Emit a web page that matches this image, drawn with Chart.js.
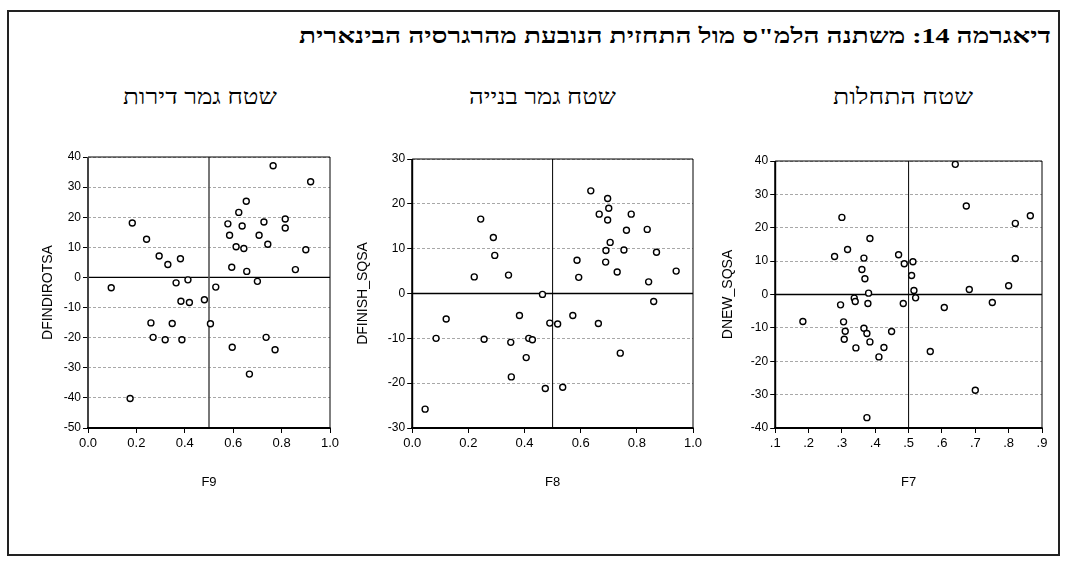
<!DOCTYPE html>
<html lang="he">
<head>
<meta charset="utf-8">
<script src="https://cdn.jsdelivr.net/npm/chart.js@4.4.1/dist/chart.umd.min.js"></script>
<style>
  body { margin: 0; background: #fff; width: 1067px; height: 568px; position: relative; overflow: hidden; }
  #frame { position: absolute; left: 7px; top: 10px; width: 1053px; height: 546px; border: 2px solid #222; box-sizing: border-box; }
  .txt { position: absolute; white-space: nowrap; direction: rtl; color: #000; line-height: 1;
         font-family: "Liberation Serif", "Times New Roman", "DejaVu Serif", serif; transform-origin: 0 50%; }
  #title { font-weight: bold; font-size: 21px; }
  .sub { font-size: 22px; }
  canvas { position: absolute; }
</style>
</head>
<body>
<div id="frame"></div>
<div class="txt" id="title" data-l="299" data-r="1051" data-y="36">דיאגרמה 14:  משתנה הלמ"ס מול התחזית הנובעת מהרגרסיה הבינארית</div>
<div class="txt sub" data-l="123" data-r="277" data-y="97">שטח גמר דירות</div>
<div class="txt sub" data-l="469" data-r="616" data-y="97">שטח גמר בנייה</div>
<div class="txt sub" data-l="833" data-r="973" data-y="97">שטח התחלות</div>

<canvas id="c1"></canvas>
<canvas id="c2"></canvas>
<canvas id="c3"></canvas>

<script>
// ---- data ----
const f9 = [0.096, 0.183, 0.242, 0.294, 0.330, 0.382, 0.364, 0.413, 0.260, 0.269, 0.319, 0.348, 0.388, 0.384,
  0.419, 0.481, 0.506, 0.528, 0.174, 0.578, 0.585, 0.623, 0.654, 0.637, 0.612, 0.644, 0.594, 0.656, 0.700,
  0.707, 0.727, 0.743, 0.815, 0.815, 0.596, 0.667, 0.736, 0.773, 0.765, 0.857, 0.920, 0.900]
const dfindirotsa = [-3.4, 18.1, 12.7, 7.1, 4.3, 6.2, -1.8, -0.8, -15.1, -19.9, -20.7, -15.3, -20.7, -7.9,
  -8.3, -7.4, -15.4, -3.2, -40.2, 17.8, 14.0, 21.6, 25.3, 17.1, 10.2, 9.6, 3.4, 2.0, -1.3,
  14.0, 18.4, 11.0, 19.4, 16.4, -23.2, -32.1, -19.9, -24.0, 37.1, 2.6, 31.8, 9.2]

const f8 = [0.046, 0.085, 0.121, 0.221, 0.244, 0.256, 0.289, 0.294, 0.343, 0.351, 0.353, 0.382, 0.406, 0.415,
  0.428, 0.464, 0.474, 0.490, 0.518, 0.536, 0.572, 0.587, 0.593, 0.636, 0.666, 0.663, 0.696, 0.700, 0.696,
  0.705, 0.690, 0.689, 0.730, 0.741, 0.754, 0.763, 0.780, 0.837, 0.842, 0.870, 0.860, 0.940]
const dfinish_sqsa = [-25.8, -10.0, -5.7, 3.7, 16.6, -10.2, 12.5, 8.5, 4.1, -10.9, -18.6, -4.9, -14.3, -10.0,
  -10.3, -0.2, -21.2, -6.6, -6.8, -20.9, -4.9, 7.4, 3.6, 22.9, 17.7, -6.7, 21.2, 19.0, 16.4,
  11.4, 9.6, 7.0, 4.8, -13.3, 9.7, 14.1, 17.7, 14.3, 2.6, 9.2, -1.8, 5.0]

const f7 = [0.183, 0.278, 0.300, 0.296, 0.317, 0.305, 0.310, 0.307, 0.337, 0.340, 0.342, 0.360, 0.366, 0.369,
  0.366, 0.375, 0.384, 0.380, 0.378, 0.384, 0.411, 0.426, 0.449, 0.470, 0.487, 0.484, 0.513, 0.509, 0.516,
  0.521, 0.565, 0.607, 0.673, 0.682, 0.700, 0.751, 0.375, 0.640, 0.800, 0.820, 0.820, 0.865]
const dnew_sqsa = [-8.1, 11.4, 23.1, -3.1, 13.5, -8.2, -11.0, -13.4, -1.1, -2.1, -16.0, 7.5, 10.9, 4.7,
  -10.1, -11.7, 16.8, 0.4, -2.7, -14.2, -18.7, -15.9, -11.1, 11.9, 9.2, -2.7, 9.8, 5.7, 1.2,
  -1.0, -17.1, -3.9, 26.5, 1.5, -28.7, -2.4, -36.9, 39.0, 2.6, 10.8, 21.3, 23.6]

const yRange1 = [-50, 40]
const yRange2 = [-30, 30]
const yRange3 = [-40, 40]

// ---- text placement ----
document.querySelectorAll('.txt').forEach(el => {
  const l = +el.dataset.l, r = +el.dataset.r, yc = +el.dataset.y
  const w = el.getBoundingClientRect().width
  const h = el.getBoundingClientRect().height
  el.style.left = l + 'px'
  el.style.top = (yc - h / 2) + 'px'
  el.style.transform = `scaleX(${(r - l) / w})`
})

const refLines = {
  id: 'refLines',
  beforeDatasetsDraw(chart, args, opts) {
    const { ctx, chartArea: a, scales: { x, y } } = chart
    const line = (x1, y1, x2, y2, color, width) => {
      ctx.beginPath(); ctx.strokeStyle = color; ctx.lineWidth = width
      ctx.moveTo(x1, y1); ctx.lineTo(x2, y2); ctx.stroke()
    }
    ctx.save()
    const y0 = y.getPixelForValue(0)
    line(a.left, y0, a.right, y0, '#000', 1.3)
    const xm = x.getPixelForValue(0.5)
    line(xm, a.top, xm, a.bottom, opts.midColor, opts.midWidth)
    line(a.left, a.top, a.right, a.top, '#000', 1)
    line(a.right, a.top, a.right, a.bottom, '#000', 1)
    line(a.left, a.top, a.left, a.bottom + 1, opts.axisColor, 2)
    line(a.left - 1, a.bottom, a.right + 0.5, a.bottom, '#000', 2)
    ctx.restore()
  }
}

function panel(id, box, xs, ys, yLabel, xLabel, yRange, xOpts, lineStyle) {
  const padTop = 12, padRight = 16, xH = 66
  const cv = document.getElementById(id)
  const cvLeft = box.titleX - 11.2
  const width = box.right + padRight - cvLeft
  const height = padTop + (box.bottom - box.top) + xH
  cv.style.left = cvLeft + 'px'
  cv.style.top = (box.top - padTop) + 'px'
  cv.width = width; cv.height = height
  cv.style.width = width + 'px'; cv.style.height = height + 'px'

  return new Chart(cv, {
    type: 'scatter',
    data: {
      datasets: [{
        data: xs.map((v, i) => ({ x: v, y: ys[i] })),
        pointRadius: 3,
        pointBorderWidth: 1.4,
        pointBorderColor: '#000',
        pointBackgroundColor: '#fff',
        pointHoverRadius: 3,
      }],
    },
    options: {
      responsive: false,
      animation: false,
      events: [],
      layout: { padding: { top: padTop, right: padRight, left: 0, bottom: 0 } },
      plugins: { legend: { display: false }, tooltip: { enabled: false }, refLines: lineStyle },
      scales: {
        x: {
          type: 'linear',
          min: xOpts.min, max: xOpts.max,
          afterFit: s => { s.height = xH },
          grid: { drawOnChartArea: false, drawTicks: true, tickLength: 5, tickColor: '#000', tickWidth: 1 },
          border: { display: false },
          ticks: {
            stepSize: xOpts.step, padding: 3, color: '#000', maxRotation: 0, autoSkip: false,
            font: { family: 'Liberation Sans Narrow, Liberation Sans, Arial, sans-serif', size: 13 },
            callback: xOpts.fmt,
          },
          title: {
            display: true, text: xLabel, color: '#000',
            font: { family: 'Liberation Sans Narrow, Liberation Sans, Arial, sans-serif', size: 13 },
          },
        },
        y: {
          type: 'linear',
          min: yRange[0], max: yRange[1],
          afterFit: s => { s.width = box.left - cvLeft },
          grid: { color: '#a8a8a8', lineWidth: 1, tickLength: 5, tickColor: '#000', tickWidth: 1 },
          border: { display: false, dash: [3, 2] },
          ticks: {
            stepSize: 10, padding: 2, color: '#000',
            font: { family: 'Liberation Sans, Arial, sans-serif', size: 12 },
          },
          title: {
            display: true, text: yLabel, color: '#000',
            font: { family: 'Liberation Sans, Arial, sans-serif', size: 14 },
          },
        },
      },
    },
    plugins: [refLines],
  })
}

const fmt01 = v => v.toFixed(1)
const fmtDot = v => '.' + Math.round(v * 10)

panel('c1', { left: 87.5, right: 329.5, top: 157, bottom: 428, titleX: 46.7 }, f9, dfindirotsa,
  'DFINDIROTSA', 'F9', yRange1, { min: 0, max: 1, step: 0.2, fmt: fmt01 },
  { midColor: '#555', midWidth: 1.6, axisColor: '#444' })
panel('c2', { left: 412, right: 693, top: 158.5, bottom: 428, titleX: 362 }, f8, dfinish_sqsa,
  'DFINISH_SQSA', 'F8', yRange2, { min: 0, max: 1, step: 0.2, fmt: fmt01 },
  { midColor: '#000', midWidth: 1, axisColor: '#000' })
panel('c3', { left: 775, right: 1042, top: 161, bottom: 428, titleX: 727 }, f7, dnew_sqsa,
  'DNEW_SQSA', 'F7', yRange3, { min: 0.1, max: 0.9, step: 0.1, fmt: fmtDot },
  { midColor: '#000', midWidth: 1, axisColor: '#000' })
</script>
</body>
</html>
